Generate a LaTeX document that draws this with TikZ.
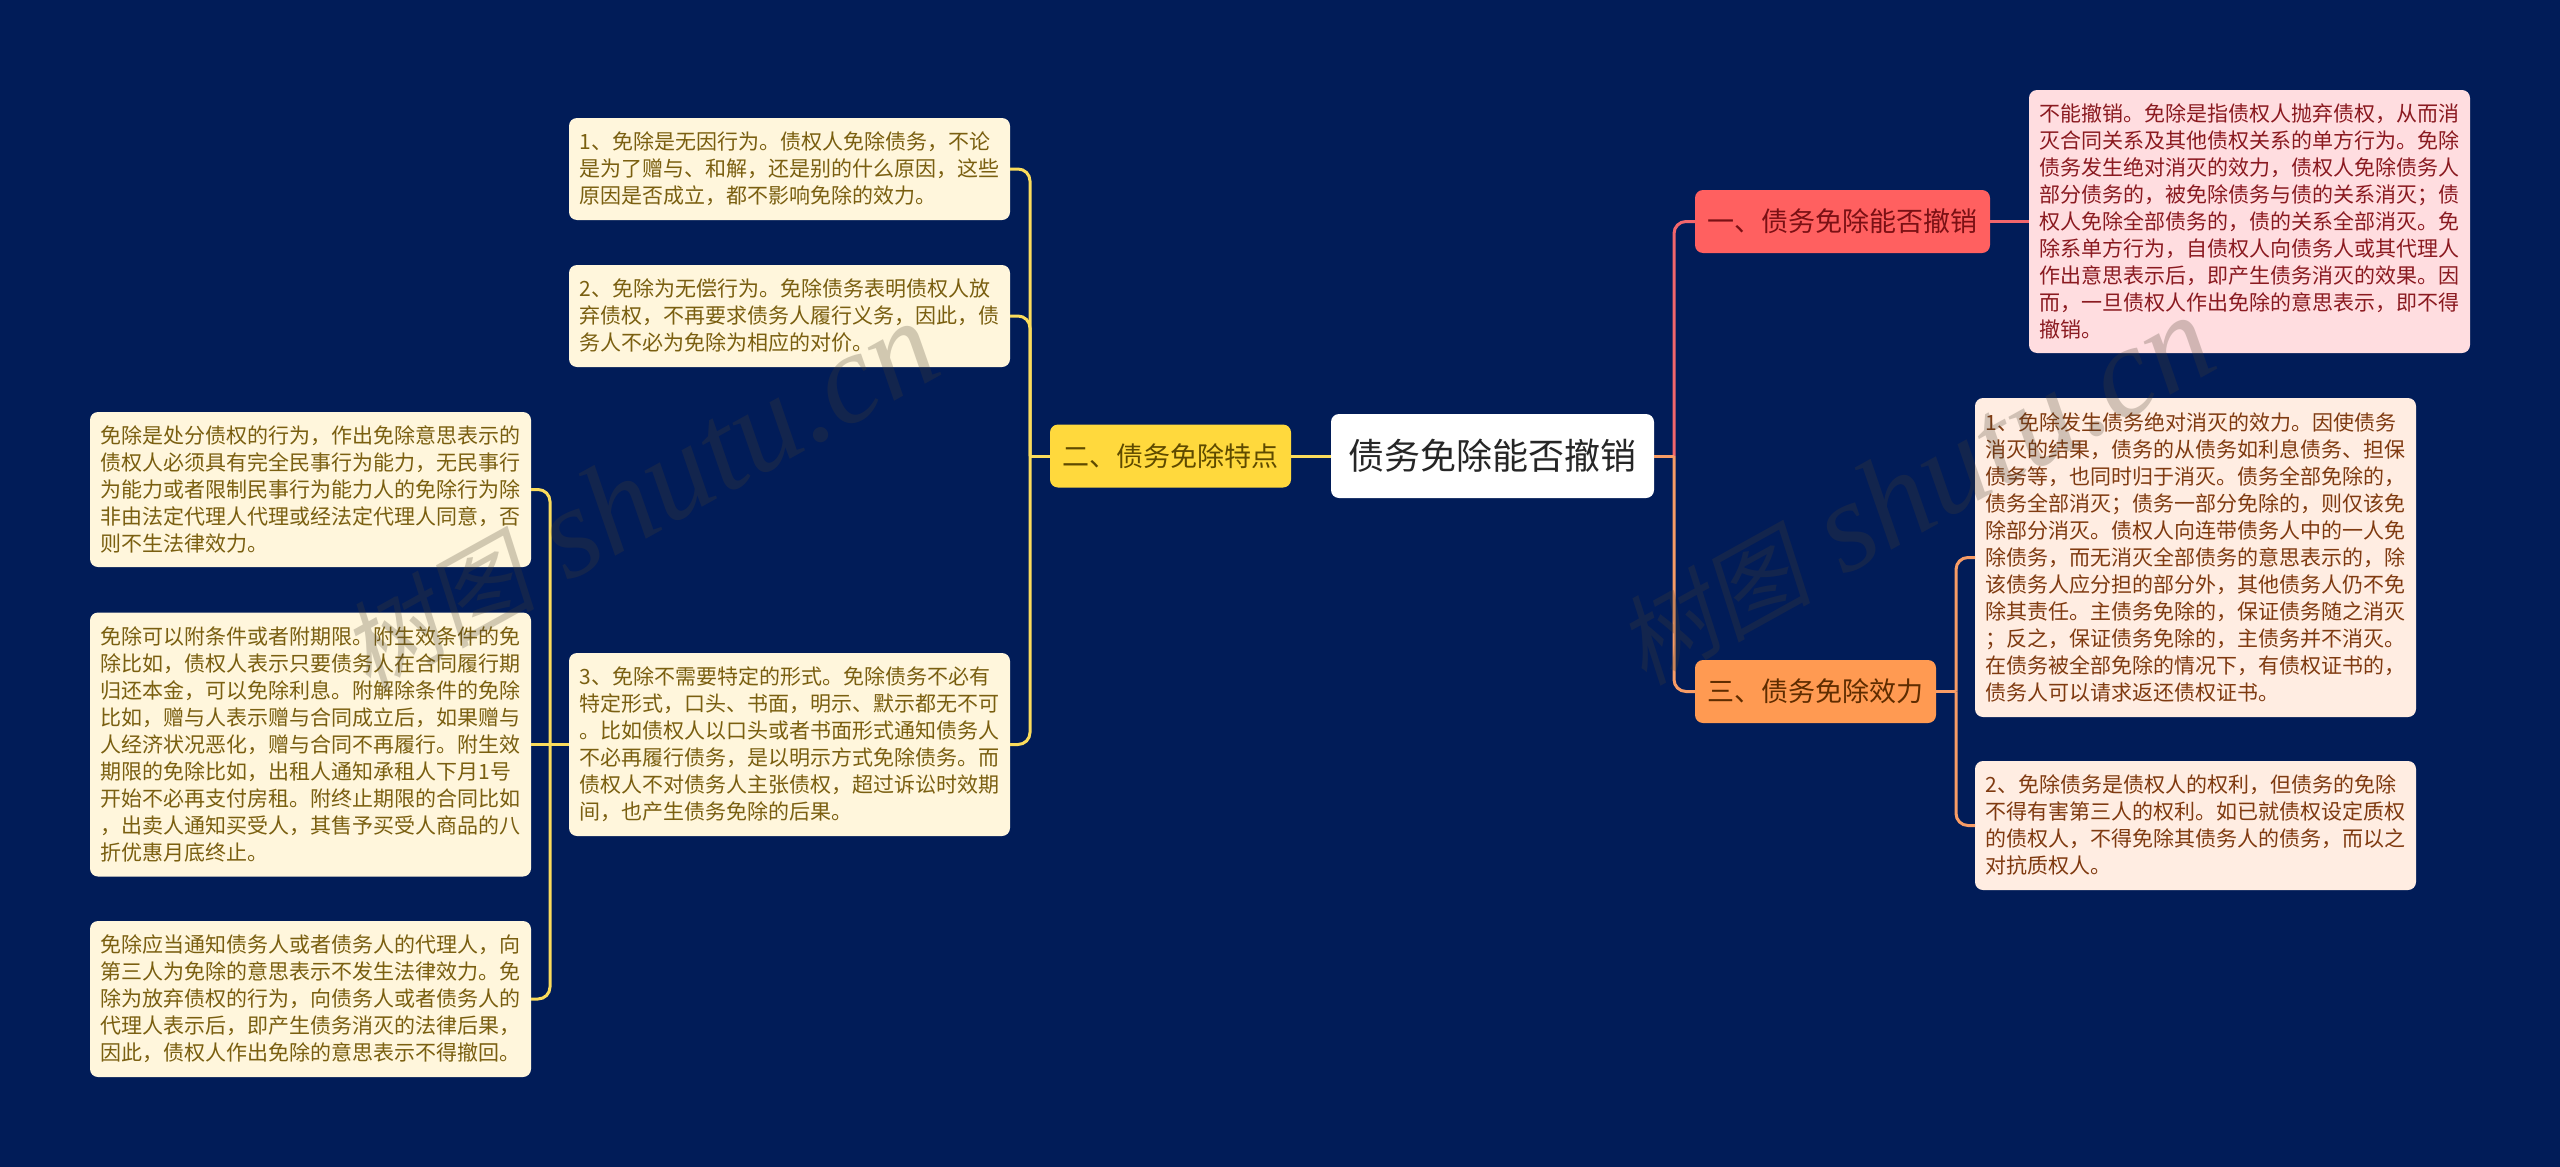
\documentclass[tikz,border=0pt]{standalone}
\usepackage{fontspec}
\setmainfont{Noto Sans CJK SC}
\newfontfamily\wmcjk[FakeSlant=0.2]{Noto Sans CJK SC}
\newfontfamily\wmlat{Liberation Serif}
\definecolor{bgnavy}{HTML}{011C58}
\definecolor{yline}{HTML}{FBDC5C}
\definecolor{rline}{HTML}{F2666C}
\definecolor{oline}{HTML}{F79C66}
\definecolor{wmgray}{HTML}{4A4030}
\definecolor{leafybg}{HTML}{FFF6DC}
\definecolor{leafytx}{HTML}{7A5F10}
\definecolor{leafrbg}{HTML}{FFDDE0}
\definecolor{leafrtx}{HTML}{8A1A20}
\definecolor{leafobg}{HTML}{FFEDE2}
\definecolor{leafotx}{HTML}{7F3A10}
\definecolor{erbg}{HTML}{FFD93D}
\definecolor{ertx}{HTML}{5E4A00}
\definecolor{yibg}{HTML}{FF6060}
\definecolor{yitx}{HTML}{7A1014}
\definecolor{sanbg}{HTML}{FF9A52}
\definecolor{santx}{HTML}{5E2C00}
\begin{document}
\begin{tikzpicture}[x=1pt, y=-1pt,
  base/.style={rounded corners=8, inner sep=0pt, outer sep=0pt, align=left},
  rootbox/.style={base, fill=white, text=black!85, align=center, minimum width=323, minimum height=84,
    font=\fontsize{36}{40}\selectfont},
  topic/.style={base, align=center, minimum height=63, font=\fontsize{27}{32}\selectfont},
  leaf/.style={base, inner xsep=10.5pt, text width=420, font=\fontsize{21}{27}\selectfont},
  leafy/.style={leaf, fill=leafybg, text=leafytx},
  leafr/.style={leaf, fill=leafrbg, text=leafrtx},
  leafo/.style={leaf, fill=leafobg, text=leafotx},
  link/.style={line width=3pt, rounded corners=12},
]
  % фон
  \fill[bgnavy] (0,0) rectangle (2560,1167);
  \useasboundingbox (0,0) rectangle (2560,1167);

  % узлы
  \node[rootbox] (root) at (1492.5,456) {债务免除能否撤销};
  \node[topic, fill=erbg, text=ertx, minimum width=241] (er) at (1170.5,456) {二、债务免除特点};
  \node[topic, fill=yibg, text=yitx, minimum width=295] (yi) at (1842.5,221.5) {一、债务免除能否撤销};
  \node[topic, fill=sanbg, text=santx, minimum width=241] (san) at (1815.5,691.5) {三、债务免除效力};

  \node[leafy, minimum height=102] (te1) at (789.5,169) {1、免除是无因行为。债权人免除债务，不论\\是为了赠与、和解，还是别的什么原因，这些\\原因是否成立，都不影响免除的效力。};
  \node[leafy, minimum height=102] (te2) at (789.5,316) {2、免除为无偿行为。免除债务表明债权人放\\弃债权，不再要求债务人履行义务，因此，债\\务人不必为免除为相应的对价。};
  \node[leafy, minimum height=183] (te3) at (789.5,744.5) {3、免除不需要特定的形式。免除债务不必有\\特定形式，口头、书面，明示、默示都无不可\\。比如债权人以口头或者书面形式通知债务人\\不必再履行债务，是以明示方式免除债务。而\\债权人不对债务人主张债权，超过诉讼时效期\\间，也产生债务免除的后果。};

  \node[leafy, minimum height=155] (ch1) at (310.5,489.5) {免除是处分债权的行为，作出免除意思表示的\\债权人必须具有完全民事行为能力，无民事行\\为能力或者限制民事行为能力人的免除行为除\\非由法定代理人代理或经法定代理人同意，否\\则不生法律效力。};
  \node[leafy, minimum height=264] (ch2) at (310.5,744.5) {免除可以附条件或者附期限。附生效条件的免\\除比如，债权人表示只要债务人在合同履行期\\归还本金，可以免除利息。附解除条件的免除\\比如，赠与人表示赠与合同成立后，如果赠与\\人经济状况恶化，赠与合同不再履行。附生效\\期限的免除比如，出租人通知承租人下月1号\\开始不必再支付房租。附终止期限的合同比如\\，出卖人通知买受人，其售予买受人商品的八\\折优惠月底终止。};
  \node[leafy, minimum height=156] (ch3) at (310.5,999) {免除应当通知债务人或者债务人的代理人，向\\第三人为免除的意思表示不发生法律效力。免\\除为放弃债权的行为，向债务人或者债务人的\\代理人表示后，即产生债务消灭的法律后果，\\因此，债权人作出免除的意思表示不得撤回。};

  \node[leafr, minimum height=263] (re1) at (2249.5,221.5) {不能撤销。免除是指债权人抛弃债权，从而消\\灭合同关系及其他债权关系的单方行为。免除\\债务发生绝对消灭的效力，债权人免除债务人\\部分债务的，被免除债务与债的关系消灭；债\\权人免除全部债务的，债的关系全部消灭。免\\除系单方行为，自债权人向债务人或其代理人\\作出意思表示后，即产生债务消灭的效果。因\\而，一旦债权人作出免除的意思表示，即不得\\撤销。};

  \node[leafo, minimum height=319] (ef1) at (2195.5,557.5) {1、免除发生债务绝对消灭的效力。因使债务\\消灭的结果，债务的从债务如利息债务、担保\\债务等，也同时归于消灭。债务全部免除的，\\债务全部消灭；债务一部分免除的，则仅该免\\除部分消灭。债权人向连带债务人中的一人免\\除债务，而无消灭全部债务的意思表示的，除\\该债务人应分担的部分外，其他债务人仍不免\\除其责任。主债务免除的，保证债务随之消灭\\；反之，保证债务免除的，主债务并不消灭。\\在债务被全部免除的情况下，有债权证书的，\\债务人可以请求返还债权证书。};
  \node[leafo, minimum height=129] (ef2) at (2195.5,825.5) {2、免除债务是债权人的权利，但债务的免除\\不得有害第三人的权利。如已就债权设定质权\\的债权人，不得免除其债务人的债务，而以之\\对抗质权人。};

  % развилки
  \coordinate (jl) at (1030,456);
  \coordinate (ja) at (550,744.5);
  \coordinate (jr) at (1674,456);
  \coordinate (js) at (1956,691.5);

  % связи
  \draw[link, yline] (root.west) -- (er.east);
  \draw[link, yline] (er.west) -- (jl);
  \draw[link, yline] (jl) |- (te1.east);
  \draw[link, yline] (jl) |- (te2.east);
  \draw[link, yline] (jl) |- (te3.east);
  \draw[link, yline] (te3.west) -- (ch2.east);
  \draw[link, yline] (ja) |- (ch1.east);
  \draw[link, yline] (ja) |- (ch3.east);

  \draw[link, rline] (jr) |- (yi.west);
  \draw[link, rline] (yi.east) -- (re1.west);
  \draw[link, oline] (root.east) -- (jr);
  \draw[link, oline] (jr) |- (san.west);
  \draw[link, oline] (san.east) -- (js);
  \draw[link, oline] (js) |- (ef1.west);
  \draw[link, oline] (js) |- (ef2.west);

  % водяные знаки
  \foreach \n/\wx/\wy in {wml/368/693, wmr/1644/687}{
    \node[rotate=29, anchor=base west, inner sep=0pt, text=wmgray, text opacity=0.25] (\n) at (\wx,\wy)
      {\fontsize{98}{120}\selectfont\wmcjk 树图\hspace{32pt}\fontsize{129}{120}\selectfont\wmlat\itshape shutu.cn};
  }
\end{tikzpicture}
\end{document}
